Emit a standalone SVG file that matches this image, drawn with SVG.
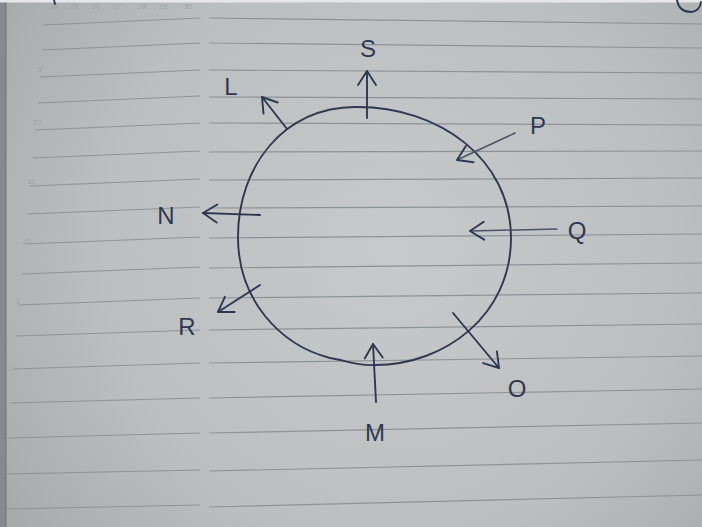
<svg xmlns="http://www.w3.org/2000/svg" width="702" height="527" viewBox="0 0 702 527">
  <defs>
    <radialGradient id="paper" cx="390" cy="250" r="480" gradientUnits="userSpaceOnUse">
      <stop offset="0" stop-color="#c7c9ca"/>
      <stop offset="0.6" stop-color="#bcbfc0"/>
      <stop offset="1" stop-color="#a6a9aa"/>
    </radialGradient>
    <marker id="head" viewBox="-16 -11 18 22" markerWidth="18" markerHeight="22" refX="0" refY="0" orient="auto" markerUnits="userSpaceOnUse">
      <path d="M-14,-9 L0,0 L-14,9" fill="none" stroke="#2f3852" stroke-width="1.9" stroke-linecap="round" stroke-linejoin="round"/>
    </marker>
  </defs>
  <style>
    .rule { stroke: #8e9397; stroke-width: 1.2; fill: none; }
    .num { font-family: "Liberation Sans", sans-serif; font-size: 7px; fill: #9ea2a5; font-style: italic; }
    .ink { stroke: #2f3852; stroke-width: 1.9; fill: none; stroke-linecap: round; }
    .thin { stroke: #4a526a; stroke-width: 1.5; }
    .label { font-family: "Liberation Sans", sans-serif; font-size: 24px; fill: #2f3852; text-anchor: middle; dominant-baseline: central; }
  </style>

  <!-- paper -->
  <rect x="0" y="0" width="702" height="527" fill="url(#paper)"/>
  <rect x="0" y="0" width="6" height="527" fill="#868a8e"/>
  <line x1="6" y1="0" x2="6" y2="527" stroke="#6f7378" stroke-width="1"/>
  <rect x="0" y="0" width="702" height="2.5" fill="#e6e7e8"/>

  <!-- margin rules -->
  <g id="margin-rules">
    <line class="rule" x1="43" y1="25" x2="200" y2="18"/>
    <line class="rule" x1="42" y1="50" x2="200" y2="43"/>
    <line class="rule" x1="40" y1="77" x2="200" y2="70"/>
    <line class="rule" x1="38" y1="103" x2="200" y2="96"/>
    <line class="rule" x1="35" y1="130" x2="200" y2="123"/>
    <line class="rule" x1="33" y1="158" x2="200" y2="151"/>
    <line class="rule" x1="30" y1="186" x2="200" y2="179"/>
    <line class="rule" x1="28" y1="214" x2="200" y2="207"/>
    <line class="rule" x1="25" y1="244" x2="200" y2="237"/>
    <line class="rule" x1="22" y1="274" x2="200" y2="267"/>
    <line class="rule" x1="19" y1="305" x2="200" y2="298"/>
    <line class="rule" x1="16" y1="336" x2="200" y2="330"/>
    <line class="rule" x1="13" y1="369" x2="200" y2="363"/>
    <line class="rule" x1="10" y1="403" x2="200" y2="398"/>
    <line class="rule" x1="7" y1="438" x2="200" y2="433"/>
    <line class="rule" x1="6" y1="474" x2="200" y2="470"/>
    <line class="rule" x1="6" y1="509" x2="200" y2="505"/>
  </g>
  <!-- main rules -->
  <g id="main-rules">
    <line class="rule" x1="209" y1="18" x2="702" y2="24"/>
    <line class="rule" x1="209" y1="43" x2="702" y2="48"/>
    <line class="rule" x1="209" y1="70" x2="702" y2="73"/>
    <line class="rule" x1="209" y1="97" x2="702" y2="99"/>
    <line class="rule" x1="209" y1="123" x2="702" y2="125"/>
    <line class="rule" x1="209" y1="152" x2="702" y2="151"/>
    <line class="rule" x1="209" y1="180" x2="702" y2="178"/>
    <line class="rule" x1="209" y1="208" x2="702" y2="206"/>
    <line class="rule" x1="209" y1="238" x2="702" y2="234"/>
    <line class="rule" x1="209" y1="268" x2="702" y2="263"/>
    <line class="rule" x1="209" y1="298" x2="702" y2="293"/>
    <line class="rule" x1="209" y1="330" x2="702" y2="324"/>
    <line class="rule" x1="209" y1="363" x2="702" y2="356"/>
    <line class="rule" x1="209" y1="398" x2="702" y2="389"/>
    <line class="rule" x1="209" y1="433" x2="702" y2="423"/>
    <line class="rule" x1="209" y1="471" x2="702" y2="460"/>
    <line class="rule" x1="209" y1="507" x2="702" y2="495"/>
  </g>

  <!-- printed margin numbers -->
  <g id="margin-numbers">
    <text class="num" x="50" y="9">24</text>
    <text class="num" x="70" y="9">25</text>
    <text class="num" x="92" y="9">26</text>
    <text class="num" x="113" y="9">27</text>
    <text class="num" x="138" y="9">28</text>
    <text class="num" x="159" y="9">29</text>
    <text class="num" x="184" y="9">30</text>
    <text class="num" x="38" y="72">9</text>
    <text class="num" x="33" y="125">10</text>
    <text class="num" x="28" y="184">11</text>
    <text class="num" x="22" y="244">12</text>
    <text class="num" x="16" y="304">1</text>
    <text class="num" x="9" y="371">2</text>
  </g>

  <!-- stray pen marks at the top edge -->
  <path d="M677,0 Q679,12 691,12 Q700,11 701,2" class="ink" stroke-width="2"/>
  <path d="M54,0 L55,4" class="ink" stroke-width="2"/>

  <!-- circle -->
  <g id="circle">
    <path class="ink" stroke-width="1.6" d="M355,107 C440,106 511,160 511,238 C511,315 445,365 375,365 C355,366 345,360 330,358 C280,345 238,300 238,237 C238,165 285,107 355,107 Z"/>
  </g>

  <!-- connectors -->
  <g id="connectors">
    <line class="ink" x1="367" y1="118" x2="367" y2="71" marker-end="url(#head)"/>
    <line class="ink" x1="287" y1="129" x2="262" y2="97" marker-end="url(#head)"/>
    <line class="ink thin" x1="515" y1="133" x2="457" y2="160" marker-end="url(#head)"/>
    <line class="ink" x1="260" y1="215" x2="203" y2="213" marker-end="url(#head)"/>
    <line class="ink thin" x1="557" y1="229" x2="470" y2="231" marker-end="url(#head)"/>
    <line class="ink" x1="260" y1="285" x2="218" y2="312" marker-end="url(#head)"/>
    <line class="ink" x1="453" y1="313" x2="499" y2="368" marker-end="url(#head)"/>
    <line class="ink" x1="376" y1="402" x2="373" y2="344" marker-end="url(#head)"/>
  </g>

  <!-- labels -->
  <g id="node-S"><text class="label" x="368" y="48">S</text></g>
  <g id="node-L"><text class="label" x="231" y="86">L</text></g>
  <g id="node-P"><text class="label" x="538" y="125">P</text></g>
  <g id="node-N"><text class="label" x="166" y="215">N</text></g>
  <g id="node-Q"><text class="label" x="577" y="230">Q</text></g>
  <g id="node-R"><text class="label" x="187" y="326">R</text></g>
  <g id="node-O"><text class="label" x="517" y="388">O</text></g>
  <g id="node-M"><text class="label" x="375" y="432">M</text></g>
</svg>
